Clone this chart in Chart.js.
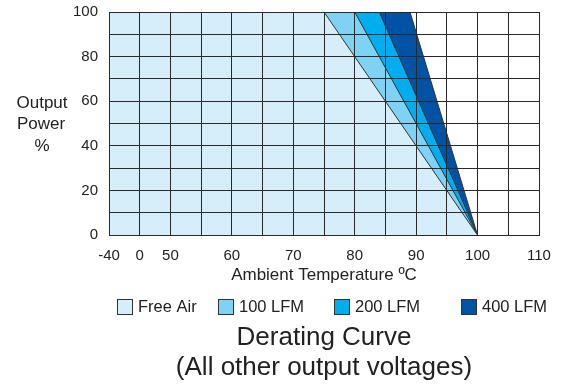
<!DOCTYPE html>
<html>
<head>
<meta charset="utf-8">
<script src="https://cdn.jsdelivr.net/npm/chart.js@4/dist/chart.umd.min.js"></script>
<style>
  html, body { margin: 0; padding: 0; background: #ffffff; }
  #wrap { width: 564px; height: 387px; position: relative; }
</style>
</head>
<body>
<div id="wrap"><canvas id="c" width="564" height="387"></canvas></div>
<script>
// ---- data ----
// grid columns of the (broken) temperature axis, one per vertical grid line
const axisTemps = [-40, 0, 50, 55, 60, 65, 70, 75, 80, 85, 90, 95, 100, 105, 110];
const xTickLabels = ['-40', '0', '50', '', '60', '', '70', '', '80', '', '90', '', '100', '', '110'];
const yTickLabels = ['0', '', '20', '', '40', '', '60', '', '80', '', '100'];
const seriesNames = ['Free Air', '100 LFM', '200 LFM', '400 LFM'];
const outputPower = [100, 100, 0];          // % at each breakpoint
const freeAirTemps = [-40, 75, 100];
const lfm100Temps = [-40, 80, 100];
const lfm200Temps = [-40, 84, 100];
const lfm400Temps = [-40, 89, 100];
const seriesColors = ['#d6edfa', '#80d2f5', '#00adee', '#0053a4'];

// ---- layout / style (not data) ----
const FONT = '"Liberation Sans", Arial, sans-serif';
const legendItemLeft = [117, 218, 334, 461];
const legendBoxTop = 299;

// position of a temperature on the broken axis (grid index)
function axisPos(t) {
  for (let i = 0; i < axisTemps.length - 1; i++) {
    const a = axisTemps[i], b = axisTemps[i + 1];
    if (t >= a && t <= b) return i + (t - a) / (b - a);
  }
  return axisTemps.length - 1;
}
function pts(temps) { return temps.map((t, i) => ({ x: axisPos(t), y: outputPower[i] })); }

const allTemps = [freeAirTemps, lfm100Temps, lfm200Temps, lfm400Temps];
const datasets = seriesNames.map((name, k) => ({
  label: name,
  data: pts(allTemps[k]),
  backgroundColor: seriesColors[k],
  borderColor: '#333333',
  borderWidth: 1,
  pointRadius: 0,
  fill: 'origin',
  tension: 0
}));

const extras = {
  id: 'extras',
  afterDraw(chart) {
    const ctx = chart.ctx;
    ctx.save();
    ctx.fillStyle = '#222222';
    ctx.font = '17px ' + FONT;
    ctx.textAlign = 'center';
    ctx.textBaseline = 'middle';
    const cy = (chart.chartArea.top + chart.chartArea.bottom) / 2;
    ctx.fillText('Output', 42, cy - 20);
    ctx.fillText('Power', 41, cy + 1);
    ctx.fillText('%', 42, cy + 23);

    // legend
    ctx.font = '16.5px ' + FONT;
    ctx.textAlign = 'left';
    chart.data.datasets.forEach((ds, k) => {
      const x = legendItemLeft[k];
      ctx.fillStyle = ds.backgroundColor;
      ctx.fillRect(x, legendBoxTop, 15, 15);
      ctx.strokeStyle = '#333333';
      ctx.lineWidth = 1;
      ctx.strokeRect(x + 0.5, legendBoxTop + 0.5, 15, 15);
      ctx.fillStyle = '#222222';
      ctx.fillText(ds.label, x + 21, legendBoxTop + 8.5);
    });
    ctx.restore();
  }
};

new Chart(document.getElementById('c'), {
  type: 'line',
  data: { datasets },
  options: {
    responsive: false,
    animation: false,
    devicePixelRatio: 1,
    layout: { padding: { left: 0, right: 25, top: 12, bottom: 0 } },
    plugins: {
      tooltip: { enabled: false },
      legend: { display: false },
      title: {
        display: true,
        position: 'bottom',
        fullSize: false,
        text: ['Derating Curve', '(All other output voltages)'],
        color: '#222222',
        font: { family: FONT, size: 26, weight: 'normal', lineHeight: 1.15 },
        padding: { top: 34, bottom: 4 }
      }
    },
    scales: {
      x: {
        type: 'linear',
        min: 0,
        max: axisTemps.length - 1,
        grid: { color: '#2a2a2a', lineWidth: 1, drawTicks: false, z: 1 },
        border: { color: '#2a2a2a', width: 1, z: 1 },
        afterFit(scale) { scale.height = 54; scale.paddingLeft = 0; scale.paddingRight = 0; },
        ticks: {
          stepSize: 1,
          autoSkip: false,
          maxRotation: 0,
          padding: 12,
          color: '#222222',
          font: { family: FONT, size: 15 },
          callback: (v) => xTickLabels[Math.round(v)]
        },
        title: {
          display: true,
          text: 'Ambient Temperature ºC',
          color: '#222222',
          font: { family: FONT, size: 17 },
          padding: { top: 0, bottom: 4 }
        }
      },
      y: {
        min: 0,
        max: 100,
        grid: { color: '#2a2a2a', lineWidth: 1, drawTicks: false, z: 1 },
        border: { color: '#2a2a2a', width: 1, z: 1 },
        afterFit(scale) { scale.width = 109; scale.paddingTop = 0; scale.paddingBottom = 0; },
        ticks: {
          stepSize: 10,
          autoSkip: false,
          padding: 11,
          color: '#222222',
          font: { family: FONT, size: 15 },
          callback: (v) => yTickLabels[Math.round(v / 10)]
        }
      }
    }
  },
  plugins: [extras]
});
</script>
</body>
</html>
